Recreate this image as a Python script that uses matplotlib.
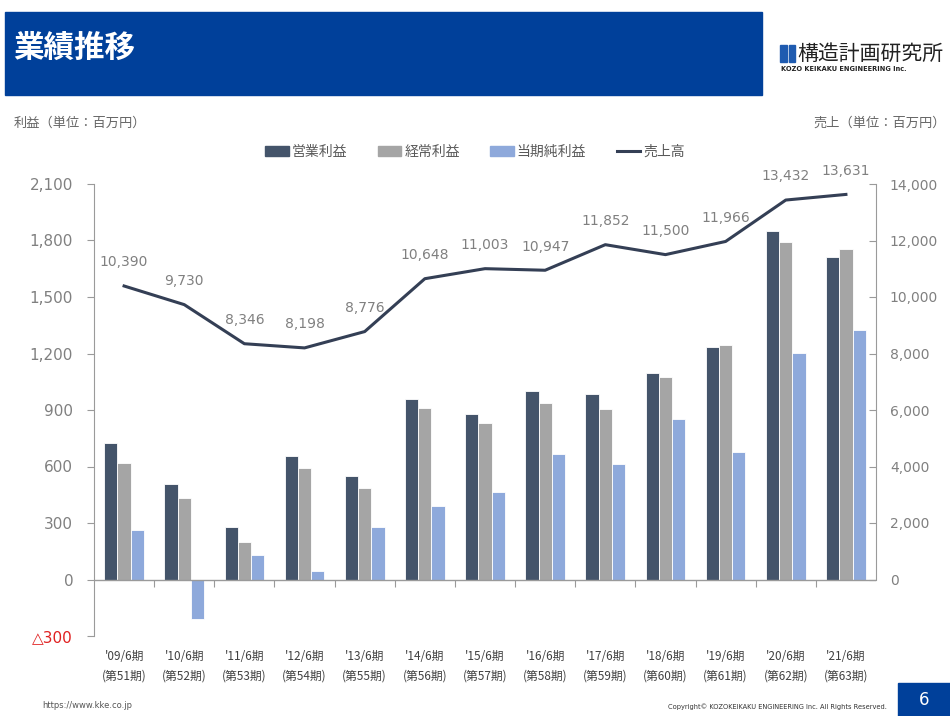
# 業績推移: profit bars (left axis) + sales line (right axis)
import numpy as np
import matplotlib.pyplot as plt
from matplotlib.patches import Rectangle, Patch
from matplotlib.lines import Line2D

plt.rcParams['font.family'] = ['DejaVu Sans', 'Noto Sans CJK JP']

periods = ["'09/6期", "'10/6期", "'11/6期", "'12/6期", "'13/6期", "'14/6期", "'15/6期",
           "'16/6期", "'17/6期", "'18/6期", "'19/6期", "'20/6期", "'21/6期"]
terms = ["(第51期)", "(第52期)", "(第53期)", "(第54期)", "(第55期)", "(第56期)", "(第57期)",
         "(第58期)", "(第59期)", "(第60期)", "(第61期)", "(第62期)", "(第63期)"]
operating = [727, 505, 277, 655, 547, 960, 880, 1002, 986, 1094, 1237, 1849, 1714]
ordinary = [618, 434, 200, 591, 485, 909, 833, 939, 904, 1073, 1244, 1793, 1756]
net = [263, -212, 129, 44, 279, 392, 462, 669, 612, 854, 676, 1203, 1323]
sales = [10390, 9730, 8346, 8198, 8776, 10648, 11003, 10947, 11852, 11500, 11966, 13432, 13631]

left_ticks = [-300, 0, 300, 600, 900, 1200, 1500, 1800, 2100]
right_ticks = [0, 2000, 4000, 6000, 8000, 10000, 12000, 14000]

c_op = '#44546A'
c_ord = '#A5A5A5'
c_net = '#8EA9DB'
c_line = '#343F55'
c_txt = '#808080'
blue = '#00409A'
cjk = 'Noto Sans CJK JP'

W, H = 950, 716
fig = plt.figure(figsize=(W / 100, H / 100), dpi=100)
fig.patch.set_facecolor('white')

def fx(px):
    return px / W

def fy(py):
    return 1 - py / H

# header band
fig.patches.append(Rectangle((fx(5), fy(95)), fx(762) - fx(5), fy(12) - fy(95),
                             transform=fig.transFigure, color=blue, zorder=0))
fig.text(fx(13), fy(48), '業績推移', color='white', fontsize=22, fontweight='bold',
         family=cjk, va='center', ha='left')

# logo
fig.patches.append(Rectangle((fx(780), fy(62)), fx(7), fy(45) - fy(62),
                             transform=fig.transFigure, color='#1F5BB0'))
fig.patches.append(Rectangle((fx(788.5), fy(62)), fx(6), fy(45) - fy(62),
                             transform=fig.transFigure, color='#1F5BB0'))
fig.text(fx(797), fy(54), '構造計画研究所', color='#222222', fontsize=15,
         family=cjk, va='center', ha='left')
fig.text(fx(781), fy(69), 'KOZO KEIKAKU ENGINEERING Inc.', color='#222222',
         fontsize=4.8, fontweight='bold', va='center', ha='left')

# axis unit labels
fig.text(fx(14), fy(123), '利益（単位：百万円）', color='#666666', fontsize=9.5,
         family=cjk, va='center', ha='left')
fig.text(fx(946), fy(123), '売上（単位：百万円）', color='#666666', fontsize=9.5,
         family=cjk, va='center', ha='right')

ax = fig.add_axes([fx(94), fy(636), fx(876) - fx(94), fy(184) - fy(636)])
ax2 = ax.twinx()
ax.set_facecolor('none')

x = np.arange(len(periods))
w = 0.22
ax.bar(x - w, operating, w, color=c_op, edgecolor='white', linewidth=0.6, zorder=2)
ax.bar(x, ordinary, w, color=c_ord, edgecolor='white', linewidth=0.6, zorder=2)
ax.bar(x + w, net, w, color=c_net, edgecolor='white', linewidth=0.6, zorder=2)
ax.axhline(0, color='#9A9A9A', linewidth=1.0, zorder=3)

ax.set_xlim(-0.5, len(periods) - 0.5)
ax.set_ylim(-300, 2100)
ax.set_yticks(left_ticks)
ax.set_yticklabels(['△300' if v < 0 else f'{v:,}' for v in left_ticks], fontsize=11)
for lab, v in zip(ax.get_yticklabels(), left_ticks):
    lab.set_color('#E02020' if v < 0 else c_txt)
ax.tick_params(axis='y', direction='out', length=5, color='#9A9A9A', pad=10)

# category boundary ticks on the zero line
ax.spines['bottom'].set_position(('data', 0))
ax.spines['bottom'].set_visible(False)
ax.set_xticks(np.arange(len(periods) - 1) + 0.5)
ax.set_xticklabels([])
ax.tick_params(axis='x', direction='out', length=5, color='#9A9A9A')
for xi, p, t in zip(x, periods, terms):
    ax.text(xi, -0.045, p, transform=ax.get_xaxis_transform(), ha='center', va='center',
            fontsize=8.5, family=cjk, color='#404040')
    ax.text(xi, -0.088, t, transform=ax.get_xaxis_transform(), ha='center', va='center',
            fontsize=8.5, family=cjk, color='#404040')

for s in ['top', 'right']:
    ax.spines[s].set_visible(False)
ax.spines['left'].set_color('#9A9A9A')

ax2.plot(x, sales, color=c_line, linewidth=2.2, zorder=4)
for xi, v in zip(x, sales):
    ax2.annotate(f'{v:,}', (xi, v), textcoords='offset points', xytext=(0, 17),
                 ha='center', va='center', fontsize=10, color=c_txt)
ax2.set_ylim(-2000, 14000)
ax2.set_yticks(right_ticks)
ax2.set_yticklabels([f'{v:,}' for v in right_ticks], fontsize=10, color=c_txt)
ax2.tick_params(axis='y', direction='in', length=5, color='#9A9A9A', pad=10)
for s in ['top', 'left', 'bottom']:
    ax2.spines[s].set_visible(False)
ax2.spines['right'].set_color('#9A9A9A')
ax2.spines['right'].set_bounds(0, 14000)

handles = [Patch(color=c_op), Patch(color=c_ord), Patch(color=c_net),
           Line2D([0], [0], color=c_line, linewidth=2.2)]
leg = fig.legend(handles, ['営業利益', '経常利益', '当期純利益', '売上高'], ncol=4,
                 loc='center', bbox_to_anchor=(fx(475), fy(152)), frameon=False,
                 handlelength=1.7, handleheight=0.8, handletextpad=0.2, columnspacing=2.2,
                 prop={'family': cjk, 'size': 10})
for t in leg.get_texts():
    t.set_color('#595959')

# footer
fig.text(fx(42), fy(705), 'https://www.kke.co.jp', fontsize=6, color='#555555',
         va='center', ha='left')
fig.text(fx(887), fy(707), 'Copyright© KOZOKEIKAKU ENGINEERING Inc. All Rights Reserved.',
         fontsize=4.8, color='#333333', va='center', ha='right')
fig.patches.append(Rectangle((fx(898), 0), fx(52), fy(683),
                             transform=fig.transFigure, color=blue))
fig.text(fx(924), fy(700), '6', fontsize=12, color='white', va='center', ha='center')

fig.savefig('out.png', dpi=100)
